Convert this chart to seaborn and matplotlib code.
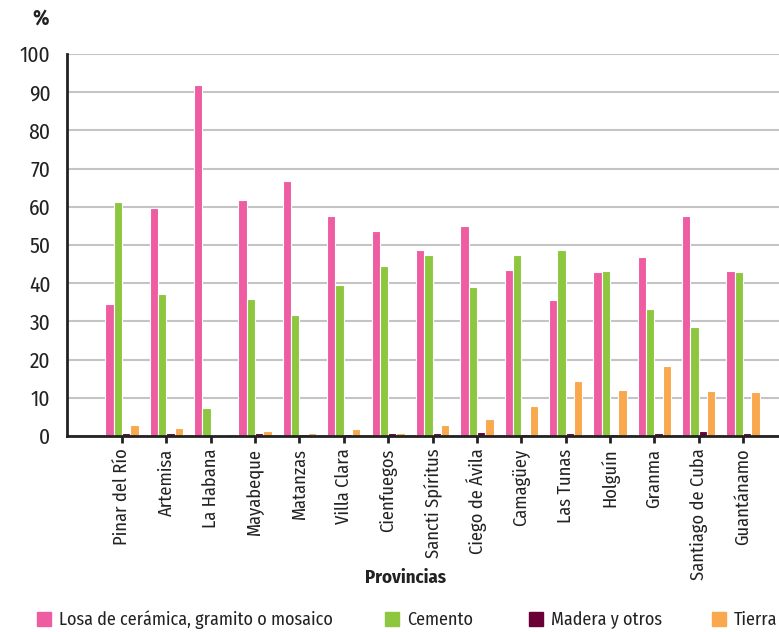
import pandas as pd
import numpy as np
import matplotlib
matplotlib.use('Agg')
import matplotlib.pyplot as plt
import seaborn as sns

provincias = ['Pinar del Río', 'Artemisa', 'La Habana', 'Mayabeque', 'Matanzas',
              'Villa Clara', 'Cienfuegos', 'Sancti Spíritus', 'Ciego de Ávila',
              'Camagüey', 'Las Tunas', 'Holguín', 'Granma', 'Santiago de Cuba',
              'Guantánamo']
series = ['Losa de cerámica, gramito o mosaico', 'Cemento', 'Madera y otros', 'Tierra']

losa = [34.6, 59.8, 91.8, 61.7, 66.7, 57.7, 53.6, 48.7, 54.9, 43.5, 35.6, 43.0, 46.9, 57.5, 43.1]
cemento = [61.3, 37.1, 7.2, 35.9, 31.7, 39.5, 44.6, 47.5, 39.0, 47.5, 48.6, 43.2, 33.2, 28.5, 43.0]
madera = [0.7, 0.8, 0.3, 0.9, 0.5, 0.4, 0.7, 0.8, 1.1, 0.5, 0.9, 0.6, 0.8, 1.2, 0.7]
tierra = [2.9, 2.1, 0.3, 1.4, 0.8, 1.9, 0.9, 2.8, 4.5, 7.9, 14.4, 12.1, 18.4, 11.7, 11.6]

colores = ['#EE5CA1', '#8DC63F', '#6A0035', '#F9A84D']

# long form table for seaborn
df = pd.DataFrame({'Provincia': provincias * 4,
                   'Tipo': np.repeat(series, len(provincias)),
                   'Valor': losa + cemento + madera + tierra})

sns.set_style('white')
plt.rcParams['font.family'] = ['Fira Sans Condensed', 'Roboto Condensed', 'Archivo Narrow',
                               'Barlow Semi Condensed', 'DejaVu Sans']

fig = plt.figure(figsize=(7.79, 6.32), dpi=100)
ax = fig.add_axes([67 / 779, 196 / 632, 1 - 67 / 779, (436 - 54) / 632])

sns.barplot(data=df, x='Provincia', y='Valor', hue='Tipo', hue_order=series,
            palette=colores, width=0.75, saturation=1, edgecolor='white',
            linewidth=0.8, ax=ax, legend=False)

ax.set_ylim(0, 100)
ax.set_xlim(-1.24, 14.81)
ax.set_yticks(range(0, 101, 10))
ax.yaxis.grid(True, color='#C4C4C4', linewidth=1.5)
ax.set_axisbelow(True)
for s in ['top', 'right']:
    ax.spines[s].set_visible(False)
ax.spines['left'].set_color('#222222')
ax.spines['left'].set_linewidth(2)
ax.spines['bottom'].set_color('#222222')
ax.spines['bottom'].set_linewidth(2)
ax.tick_params(axis='y', length=5, width=2, color='#222222', labelsize=15.5,
               labelcolor='#222222', pad=7)
ax.tick_params(axis='x', length=5, width=2, color='#222222', labelsize=13.3,
               labelcolor='#222222', pad=4, rotation=90, bottom=True)

ax.set_ylabel('')
ax.set_xlabel('')
fig.text(405 / 779, 1 - 578 / 632, 'Provincias', fontsize=13.5, color='#222222',
         fontweight='bold', ha='center', va='center')
fig.text(41 / 779, 1 - 18 / 632, '%', fontsize=15, fontweight='bold', color='#222222',
         ha='center', va='center')

# one legend entry per position, like the reference
legend_x = [37, 385, 529, 712]
for c, lab, x in zip(colores, series, legend_x):
    h = plt.Rectangle((0, 0), 1, 1, color=c)
    leg = fig.legend([h], [lab], loc='center left', bbox_to_anchor=(x / 779, 1 - 620 / 632),
                     frameon=False, fontsize=13, handlelength=0.8, handleheight=0.8,
                     handletextpad=0.4, borderpad=0, borderaxespad=0)
    for t in leg.get_texts():
        t.set_color('#222222')

fig.savefig('out.png', dpi=100)
